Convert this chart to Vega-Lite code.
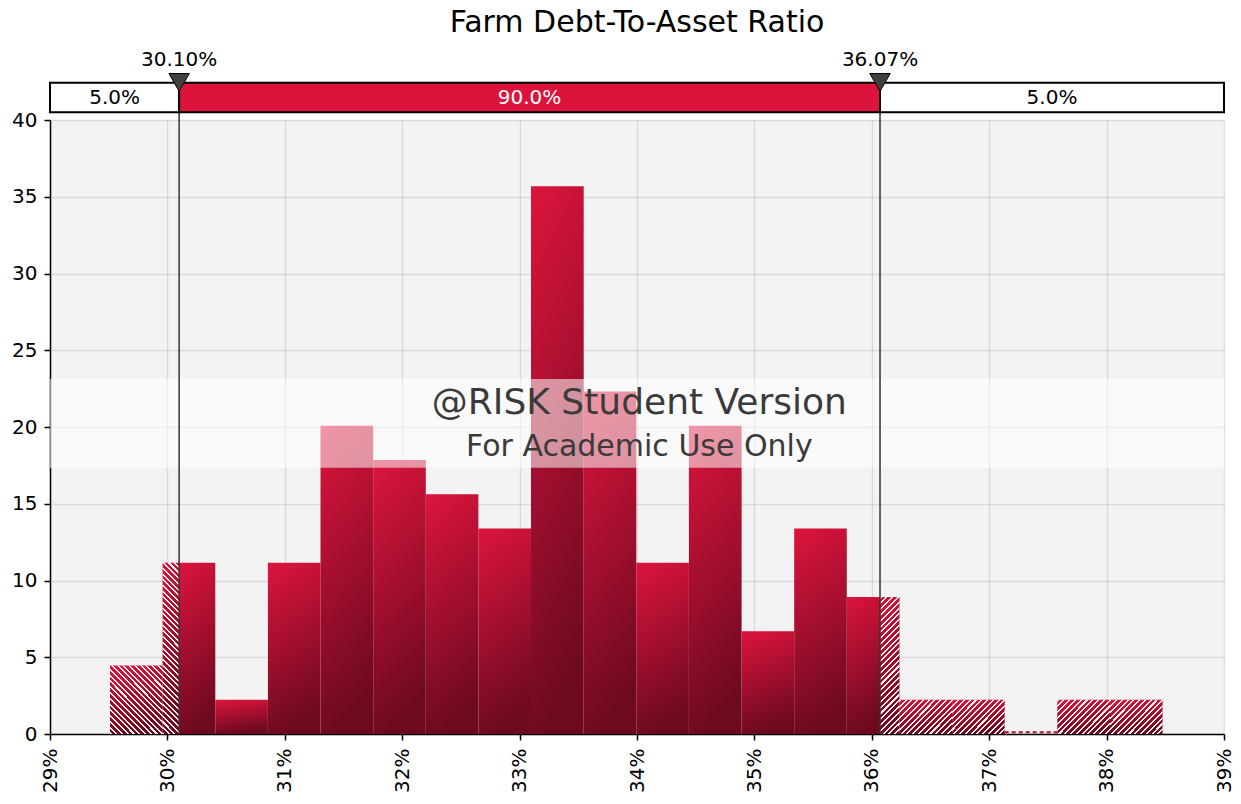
{
  "$schema": "https://vega.github.io/schema/vega-lite/v6.json",
  "width": 1174,
  "height": 614,
  "autosize": {"type": "none"},
  "padding": {"left": 50, "top": 120, "right": 17, "bottom": 70},
  "background": "white",
  "title": {"text": "Farm Debt-To-Asset Ratio", "fontSize": 30, "font": "DejaVu Sans", "fontWeight": "normal", "color": "#000", "anchor": "middle", "frame": "group", "offset": 12},
  "config": {
    "font": "DejaVu Sans",
    "view": {"fill": "#f3f3f3", "stroke": null},
    "axis": {"labelFontSize": 20, "labelColor": "#000", "tickColor": "#000", "domainColor": "#000", "domainWidth": 1.5, "tickWidth": 1.5, "tickSize": 6, "gridColor": "#000", "gridOpacity": 0.1, "gridWidth": 1.5, "zindex": 1, "labelFont": "DejaVu Sans"}
  },
  "datasets": {
    "bins": [
      {"x0": 29.511, "x1": 29.959, "d": 4.461},
      {"x0": 29.959, "x1": 30.10, "d": 11.153},
      {"x0": 30.10, "x1": 30.408, "d": 11.153},
      {"x0": 30.408, "x1": 30.856, "d": 2.231},
      {"x0": 30.856, "x1": 31.304, "d": 11.153},
      {"x0": 31.304, "x1": 31.753, "d": 20.076},
      {"x0": 31.753, "x1": 32.201, "d": 17.845},
      {"x0": 32.201, "x1": 32.649, "d": 15.614},
      {"x0": 32.649, "x1": 33.097, "d": 13.384},
      {"x0": 33.097, "x1": 33.546, "d": 35.69},
      {"x0": 33.546, "x1": 33.994, "d": 22.306},
      {"x0": 33.994, "x1": 34.442, "d": 11.153},
      {"x0": 34.442, "x1": 34.891, "d": 20.076},
      {"x0": 34.891, "x1": 35.339, "d": 6.692},
      {"x0": 35.339, "x1": 35.787, "d": 13.384},
      {"x0": 35.787, "x1": 36.07, "d": 8.922},
      {"x0": 36.07, "x1": 36.236, "d": 8.922},
      {"x0": 36.236, "x1": 36.684, "d": 2.231},
      {"x0": 36.684, "x1": 37.132, "d": 2.231},
      {"x0": 37.132, "x1": 37.580, "d": 0},
      {"x0": 37.580, "x1": 38.029, "d": 2.231},
      {"x0": 38.029, "x1": 38.477, "d": 2.231}
    ],
    "tails": [
      {"from": 29, "to": 30.10, "share": "5.0%"},
      {"from": 30.10, "to": 36.07, "share": "90.0%"},
      {"from": 36.07, "to": 39, "share": "5.0%"}
    ],
    "markers": [
      {"v": 30.10, "label": "30.10%"},
      {"v": 36.07, "label": "36.07%"}
    ]
  },
  "layer": [
    {
      "data": {"name": "bins"},
      "transform": [{"filter": "datum.d > 0"}],
      "mark": {"type": "rect", "fill": {"gradient": "linear", "x1": 0, "y1": 0, "x2": 0.2, "y2": 1, "stops": [{"offset": 0, "color": "#dd143d"}, {"offset": 1, "color": "#6e0a20"}]}},
      "encoding": {
        "x": {"field": "x0", "type": "quantitative", "title": null, "scale": {"domain": [29, 39], "nice": false, "zero": false}, "axis": {"values": [29, 30, 31, 32, 33, 34, 35, 36, 37, 38, 39], "labelExpr": "datum.value + '%'", "labelAngle": 270, "labelPadding": 8, "title": null}},
        "x2": {"field": "x1"},
        "y": {"field": "d", "type": "quantitative", "title": null, "scale": {"domain": [0, 40], "nice": false}, "axis": {"values": [0, 5, 10, 15, 20, 25, 30, 35, 40], "labelPadding": 7, "title": null}},
        "y2": {"datum": 0}
      }
    },
    {
      "data": {"name": "bins"},
      "transform": [{"filter": "datum.x1 <= 30.1 && datum.x1 - datum.x0 > 0.3"}],
      "mark": {"type": "rect", "fill": {"gradient": "linear", "x1": 0, "y1": 1, "x2": 0.858, "y2": -0.11, "stops": [
        {"offset": 0, "color": "#fbeef1"}, {"offset": 0.0171, "color": "#fbeef1"}, {"offset": 0.0171, "color": "transparent"}, {"offset": 0.0476, "color": "transparent"},
        {"offset": 0.0476, "color": "#fbeef1"}, {"offset": 0.0648, "color": "#fbeef1"}, {"offset": 0.0648, "color": "transparent"}, {"offset": 0.0952, "color": "transparent"},
        {"offset": 0.0952, "color": "#fbeef1"}, {"offset": 0.1124, "color": "#fbeef1"}, {"offset": 0.1124, "color": "transparent"}, {"offset": 0.1429, "color": "transparent"},
        {"offset": 0.1429, "color": "#fbeef1"}, {"offset": 0.16, "color": "#fbeef1"}, {"offset": 0.16, "color": "transparent"}, {"offset": 0.1905, "color": "transparent"},
        {"offset": 0.1905, "color": "#fbeef1"}, {"offset": 0.2076, "color": "#fbeef1"}, {"offset": 0.2076, "color": "transparent"}, {"offset": 0.2381, "color": "transparent"},
        {"offset": 0.2381, "color": "#fbeef1"}, {"offset": 0.2552, "color": "#fbeef1"}, {"offset": 0.2552, "color": "transparent"}, {"offset": 0.2857, "color": "transparent"},
        {"offset": 0.2857, "color": "#fbeef1"}, {"offset": 0.3029, "color": "#fbeef1"}, {"offset": 0.3029, "color": "transparent"}, {"offset": 0.3333, "color": "transparent"},
        {"offset": 0.3333, "color": "#fbeef1"}, {"offset": 0.3505, "color": "#fbeef1"}, {"offset": 0.3505, "color": "transparent"}, {"offset": 0.381, "color": "transparent"},
        {"offset": 0.381, "color": "#fbeef1"}, {"offset": 0.3981, "color": "#fbeef1"}, {"offset": 0.3981, "color": "transparent"}, {"offset": 0.4286, "color": "transparent"},
        {"offset": 0.4286, "color": "#fbeef1"}, {"offset": 0.4457, "color": "#fbeef1"}, {"offset": 0.4457, "color": "transparent"}, {"offset": 0.4762, "color": "transparent"},
        {"offset": 0.4762, "color": "#fbeef1"}, {"offset": 0.4933, "color": "#fbeef1"}, {"offset": 0.4933, "color": "transparent"}, {"offset": 0.5238, "color": "transparent"},
        {"offset": 0.5238, "color": "#fbeef1"}, {"offset": 0.541, "color": "#fbeef1"}, {"offset": 0.541, "color": "transparent"}, {"offset": 0.5714, "color": "transparent"},
        {"offset": 0.5714, "color": "#fbeef1"}, {"offset": 0.5886, "color": "#fbeef1"}, {"offset": 0.5886, "color": "transparent"}, {"offset": 0.619, "color": "transparent"},
        {"offset": 0.619, "color": "#fbeef1"}, {"offset": 0.6362, "color": "#fbeef1"}, {"offset": 0.6362, "color": "transparent"}, {"offset": 0.6667, "color": "transparent"},
        {"offset": 0.6667, "color": "#fbeef1"}, {"offset": 0.6838, "color": "#fbeef1"}, {"offset": 0.6838, "color": "transparent"}, {"offset": 0.7143, "color": "transparent"},
        {"offset": 0.7143, "color": "#fbeef1"}, {"offset": 0.7314, "color": "#fbeef1"}, {"offset": 0.7314, "color": "transparent"}, {"offset": 0.7619, "color": "transparent"},
        {"offset": 0.7619, "color": "#fbeef1"}, {"offset": 0.7791, "color": "#fbeef1"}, {"offset": 0.7791, "color": "transparent"}, {"offset": 0.8095, "color": "transparent"},
        {"offset": 0.8095, "color": "#fbeef1"}, {"offset": 0.8267, "color": "#fbeef1"}, {"offset": 0.8267, "color": "transparent"}, {"offset": 0.8571, "color": "transparent"},
        {"offset": 0.8571, "color": "#fbeef1"}, {"offset": 0.8743, "color": "#fbeef1"}, {"offset": 0.8743, "color": "transparent"}, {"offset": 0.9048, "color": "transparent"},
        {"offset": 0.9048, "color": "#fbeef1"}, {"offset": 0.9219, "color": "#fbeef1"}, {"offset": 0.9219, "color": "transparent"}, {"offset": 0.9524, "color": "transparent"},
        {"offset": 0.9524, "color": "#fbeef1"}, {"offset": 0.9695, "color": "#fbeef1"}, {"offset": 0.9695, "color": "transparent"}, {"offset": 1, "color": "transparent"}
      ]}},
      "encoding": {
        "x": {"field": "x0", "type": "quantitative", "title": null},
        "x2": {"field": "x1"},
        "y": {"field": "d", "type": "quantitative", "title": null},
        "y2": {"datum": 0}
      }
    },
    {
      "data": {"name": "bins"},
      "transform": [{"filter": "datum.x1 <= 30.1 && datum.x1 - datum.x0 < 0.3"}],
      "mark": {"type": "rect", "fill": {"gradient": "linear", "x1": 0, "y1": 1, "x2": 0.1053, "y2": -0.0867, "stops": [
        {"offset": 0, "color": "#fbeef1"}, {"offset": 0.0109, "color": "#fbeef1"}, {"offset": 0.0109, "color": "transparent"}, {"offset": 0.0303, "color": "transparent"},
        {"offset": 0.0303, "color": "#fbeef1"}, {"offset": 0.0412, "color": "#fbeef1"}, {"offset": 0.0412, "color": "transparent"}, {"offset": 0.0606, "color": "transparent"},
        {"offset": 0.0606, "color": "#fbeef1"}, {"offset": 0.0715, "color": "#fbeef1"}, {"offset": 0.0715, "color": "transparent"}, {"offset": 0.0909, "color": "transparent"},
        {"offset": 0.0909, "color": "#fbeef1"}, {"offset": 0.1018, "color": "#fbeef1"}, {"offset": 0.1018, "color": "transparent"}, {"offset": 0.1212, "color": "transparent"},
        {"offset": 0.1212, "color": "#fbeef1"}, {"offset": 0.1321, "color": "#fbeef1"}, {"offset": 0.1321, "color": "transparent"}, {"offset": 0.1515, "color": "transparent"},
        {"offset": 0.1515, "color": "#fbeef1"}, {"offset": 0.1624, "color": "#fbeef1"}, {"offset": 0.1624, "color": "transparent"}, {"offset": 0.1818, "color": "transparent"},
        {"offset": 0.1818, "color": "#fbeef1"}, {"offset": 0.1927, "color": "#fbeef1"}, {"offset": 0.1927, "color": "transparent"}, {"offset": 0.2121, "color": "transparent"},
        {"offset": 0.2121, "color": "#fbeef1"}, {"offset": 0.223, "color": "#fbeef1"}, {"offset": 0.223, "color": "transparent"}, {"offset": 0.2424, "color": "transparent"},
        {"offset": 0.2424, "color": "#fbeef1"}, {"offset": 0.2533, "color": "#fbeef1"}, {"offset": 0.2533, "color": "transparent"}, {"offset": 0.2727, "color": "transparent"},
        {"offset": 0.2727, "color": "#fbeef1"}, {"offset": 0.2836, "color": "#fbeef1"}, {"offset": 0.2836, "color": "transparent"}, {"offset": 0.303, "color": "transparent"},
        {"offset": 0.303, "color": "#fbeef1"}, {"offset": 0.3139, "color": "#fbeef1"}, {"offset": 0.3139, "color": "transparent"}, {"offset": 0.3333, "color": "transparent"},
        {"offset": 0.3333, "color": "#fbeef1"}, {"offset": 0.3442, "color": "#fbeef1"}, {"offset": 0.3442, "color": "transparent"}, {"offset": 0.3636, "color": "transparent"},
        {"offset": 0.3636, "color": "#fbeef1"}, {"offset": 0.3745, "color": "#fbeef1"}, {"offset": 0.3745, "color": "transparent"}, {"offset": 0.3939, "color": "transparent"},
        {"offset": 0.3939, "color": "#fbeef1"}, {"offset": 0.4048, "color": "#fbeef1"}, {"offset": 0.4048, "color": "transparent"}, {"offset": 0.4242, "color": "transparent"},
        {"offset": 0.4242, "color": "#fbeef1"}, {"offset": 0.4351, "color": "#fbeef1"}, {"offset": 0.4351, "color": "transparent"}, {"offset": 0.4545, "color": "transparent"},
        {"offset": 0.4545, "color": "#fbeef1"}, {"offset": 0.4654, "color": "#fbeef1"}, {"offset": 0.4654, "color": "transparent"}, {"offset": 0.4848, "color": "transparent"},
        {"offset": 0.4848, "color": "#fbeef1"}, {"offset": 0.4957, "color": "#fbeef1"}, {"offset": 0.4957, "color": "transparent"}, {"offset": 0.5152, "color": "transparent"},
        {"offset": 0.5152, "color": "#fbeef1"}, {"offset": 0.5261, "color": "#fbeef1"}, {"offset": 0.5261, "color": "transparent"}, {"offset": 0.5455, "color": "transparent"},
        {"offset": 0.5455, "color": "#fbeef1"}, {"offset": 0.5564, "color": "#fbeef1"}, {"offset": 0.5564, "color": "transparent"}, {"offset": 0.5758, "color": "transparent"},
        {"offset": 0.5758, "color": "#fbeef1"}, {"offset": 0.5867, "color": "#fbeef1"}, {"offset": 0.5867, "color": "transparent"}, {"offset": 0.6061, "color": "transparent"},
        {"offset": 0.6061, "color": "#fbeef1"}, {"offset": 0.617, "color": "#fbeef1"}, {"offset": 0.617, "color": "transparent"}, {"offset": 0.6364, "color": "transparent"},
        {"offset": 0.6364, "color": "#fbeef1"}, {"offset": 0.6473, "color": "#fbeef1"}, {"offset": 0.6473, "color": "transparent"}, {"offset": 0.6667, "color": "transparent"},
        {"offset": 0.6667, "color": "#fbeef1"}, {"offset": 0.6776, "color": "#fbeef1"}, {"offset": 0.6776, "color": "transparent"}, {"offset": 0.697, "color": "transparent"},
        {"offset": 0.697, "color": "#fbeef1"}, {"offset": 0.7079, "color": "#fbeef1"}, {"offset": 0.7079, "color": "transparent"}, {"offset": 0.7273, "color": "transparent"},
        {"offset": 0.7273, "color": "#fbeef1"}, {"offset": 0.7382, "color": "#fbeef1"}, {"offset": 0.7382, "color": "transparent"}, {"offset": 0.7576, "color": "transparent"},
        {"offset": 0.7576, "color": "#fbeef1"}, {"offset": 0.7685, "color": "#fbeef1"}, {"offset": 0.7685, "color": "transparent"}, {"offset": 0.7879, "color": "transparent"},
        {"offset": 0.7879, "color": "#fbeef1"}, {"offset": 0.7988, "color": "#fbeef1"}, {"offset": 0.7988, "color": "transparent"}, {"offset": 0.8182, "color": "transparent"},
        {"offset": 0.8182, "color": "#fbeef1"}, {"offset": 0.8291, "color": "#fbeef1"}, {"offset": 0.8291, "color": "transparent"}, {"offset": 0.8485, "color": "transparent"},
        {"offset": 0.8485, "color": "#fbeef1"}, {"offset": 0.8594, "color": "#fbeef1"}, {"offset": 0.8594, "color": "transparent"}, {"offset": 0.8788, "color": "transparent"},
        {"offset": 0.8788, "color": "#fbeef1"}, {"offset": 0.8897, "color": "#fbeef1"}, {"offset": 0.8897, "color": "transparent"}, {"offset": 0.9091, "color": "transparent"},
        {"offset": 0.9091, "color": "#fbeef1"}, {"offset": 0.92, "color": "#fbeef1"}, {"offset": 0.92, "color": "transparent"}, {"offset": 0.9394, "color": "transparent"},
        {"offset": 0.9394, "color": "#fbeef1"}, {"offset": 0.9503, "color": "#fbeef1"}, {"offset": 0.9503, "color": "transparent"}, {"offset": 0.9697, "color": "transparent"},
        {"offset": 0.9697, "color": "#fbeef1"}, {"offset": 0.9806, "color": "#fbeef1"}, {"offset": 0.9806, "color": "transparent"}, {"offset": 1, "color": "transparent"}
      ]}},
      "encoding": {
        "x": {"field": "x0", "type": "quantitative", "title": null},
        "x2": {"field": "x1"},
        "y": {"field": "d", "type": "quantitative", "title": null},
        "y2": {"datum": 0}
      }
    },
    {
      "data": {"name": "bins"},
      "transform": [{"filter": "datum.x0 >= 36.07 && datum.x1 - datum.x0 > 0.3 && datum.d > 0"}],
      "mark": {"type": "rect", "fill": {"gradient": "linear", "x1": 0, "y1": 0, "x2": 1.161, "y2": 0.75, "stops": [
        {"offset": 0, "color": "#fbeef1"}, {"offset": 0.024, "color": "#fbeef1"}, {"offset": 0.024, "color": "transparent"}, {"offset": 0.0667, "color": "transparent"},
        {"offset": 0.0667, "color": "#fbeef1"}, {"offset": 0.0907, "color": "#fbeef1"}, {"offset": 0.0907, "color": "transparent"}, {"offset": 0.1333, "color": "transparent"},
        {"offset": 0.1333, "color": "#fbeef1"}, {"offset": 0.1573, "color": "#fbeef1"}, {"offset": 0.1573, "color": "transparent"}, {"offset": 0.2, "color": "transparent"},
        {"offset": 0.2, "color": "#fbeef1"}, {"offset": 0.224, "color": "#fbeef1"}, {"offset": 0.224, "color": "transparent"}, {"offset": 0.2667, "color": "transparent"},
        {"offset": 0.2667, "color": "#fbeef1"}, {"offset": 0.2907, "color": "#fbeef1"}, {"offset": 0.2907, "color": "transparent"}, {"offset": 0.3333, "color": "transparent"},
        {"offset": 0.3333, "color": "#fbeef1"}, {"offset": 0.3573, "color": "#fbeef1"}, {"offset": 0.3573, "color": "transparent"}, {"offset": 0.4, "color": "transparent"},
        {"offset": 0.4, "color": "#fbeef1"}, {"offset": 0.424, "color": "#fbeef1"}, {"offset": 0.424, "color": "transparent"}, {"offset": 0.4667, "color": "transparent"},
        {"offset": 0.4667, "color": "#fbeef1"}, {"offset": 0.4907, "color": "#fbeef1"}, {"offset": 0.4907, "color": "transparent"}, {"offset": 0.5333, "color": "transparent"},
        {"offset": 0.5333, "color": "#fbeef1"}, {"offset": 0.5573, "color": "#fbeef1"}, {"offset": 0.5573, "color": "transparent"}, {"offset": 0.6, "color": "transparent"},
        {"offset": 0.6, "color": "#fbeef1"}, {"offset": 0.624, "color": "#fbeef1"}, {"offset": 0.624, "color": "transparent"}, {"offset": 0.6667, "color": "transparent"},
        {"offset": 0.6667, "color": "#fbeef1"}, {"offset": 0.6907, "color": "#fbeef1"}, {"offset": 0.6907, "color": "transparent"}, {"offset": 0.7333, "color": "transparent"},
        {"offset": 0.7333, "color": "#fbeef1"}, {"offset": 0.7573, "color": "#fbeef1"}, {"offset": 0.7573, "color": "transparent"}, {"offset": 0.8, "color": "transparent"},
        {"offset": 0.8, "color": "#fbeef1"}, {"offset": 0.824, "color": "#fbeef1"}, {"offset": 0.824, "color": "transparent"}, {"offset": 0.8667, "color": "transparent"},
        {"offset": 0.8667, "color": "#fbeef1"}, {"offset": 0.8907, "color": "#fbeef1"}, {"offset": 0.8907, "color": "transparent"}, {"offset": 0.9333, "color": "transparent"},
        {"offset": 0.9333, "color": "#fbeef1"}, {"offset": 0.9573, "color": "#fbeef1"}, {"offset": 0.9573, "color": "transparent"}, {"offset": 1, "color": "transparent"}
      ]}},
      "encoding": {
        "x": {"field": "x0", "type": "quantitative", "title": null},
        "x2": {"field": "x1"},
        "y": {"field": "d", "type": "quantitative", "title": null},
        "y2": {"datum": 0}
      }
    },
    {
      "data": {"name": "bins"},
      "transform": [{"filter": "datum.x0 >= 36.07 && datum.x1 - datum.x0 < 0.3"}],
      "mark": {"type": "rect", "fill": {"gradient": "linear", "x1": 0, "y1": 0, "x2": 0.1592, "y2": 1.1196, "stops": [
        {"offset": 0, "color": "#fbeef1"}, {"offset": 0.0133, "color": "#fbeef1"}, {"offset": 0.0133, "color": "transparent"}, {"offset": 0.037, "color": "transparent"},
        {"offset": 0.037, "color": "#fbeef1"}, {"offset": 0.0503, "color": "#fbeef1"}, {"offset": 0.0503, "color": "transparent"}, {"offset": 0.0741, "color": "transparent"},
        {"offset": 0.0741, "color": "#fbeef1"}, {"offset": 0.0874, "color": "#fbeef1"}, {"offset": 0.0874, "color": "transparent"}, {"offset": 0.1111, "color": "transparent"},
        {"offset": 0.1111, "color": "#fbeef1"}, {"offset": 0.1244, "color": "#fbeef1"}, {"offset": 0.1244, "color": "transparent"}, {"offset": 0.1481, "color": "transparent"},
        {"offset": 0.1481, "color": "#fbeef1"}, {"offset": 0.1614, "color": "#fbeef1"}, {"offset": 0.1614, "color": "transparent"}, {"offset": 0.1852, "color": "transparent"},
        {"offset": 0.1852, "color": "#fbeef1"}, {"offset": 0.1985, "color": "#fbeef1"}, {"offset": 0.1985, "color": "transparent"}, {"offset": 0.2222, "color": "transparent"},
        {"offset": 0.2222, "color": "#fbeef1"}, {"offset": 0.2355, "color": "#fbeef1"}, {"offset": 0.2355, "color": "transparent"}, {"offset": 0.2593, "color": "transparent"},
        {"offset": 0.2593, "color": "#fbeef1"}, {"offset": 0.2726, "color": "#fbeef1"}, {"offset": 0.2726, "color": "transparent"}, {"offset": 0.2963, "color": "transparent"},
        {"offset": 0.2963, "color": "#fbeef1"}, {"offset": 0.3096, "color": "#fbeef1"}, {"offset": 0.3096, "color": "transparent"}, {"offset": 0.3333, "color": "transparent"},
        {"offset": 0.3333, "color": "#fbeef1"}, {"offset": 0.3466, "color": "#fbeef1"}, {"offset": 0.3466, "color": "transparent"}, {"offset": 0.3704, "color": "transparent"},
        {"offset": 0.3704, "color": "#fbeef1"}, {"offset": 0.3837, "color": "#fbeef1"}, {"offset": 0.3837, "color": "transparent"}, {"offset": 0.4074, "color": "transparent"},
        {"offset": 0.4074, "color": "#fbeef1"}, {"offset": 0.4207, "color": "#fbeef1"}, {"offset": 0.4207, "color": "transparent"}, {"offset": 0.4444, "color": "transparent"},
        {"offset": 0.4444, "color": "#fbeef1"}, {"offset": 0.4577, "color": "#fbeef1"}, {"offset": 0.4577, "color": "transparent"}, {"offset": 0.4815, "color": "transparent"},
        {"offset": 0.4815, "color": "#fbeef1"}, {"offset": 0.4948, "color": "#fbeef1"}, {"offset": 0.4948, "color": "transparent"}, {"offset": 0.5185, "color": "transparent"},
        {"offset": 0.5185, "color": "#fbeef1"}, {"offset": 0.5318, "color": "#fbeef1"}, {"offset": 0.5318, "color": "transparent"}, {"offset": 0.5556, "color": "transparent"},
        {"offset": 0.5556, "color": "#fbeef1"}, {"offset": 0.5689, "color": "#fbeef1"}, {"offset": 0.5689, "color": "transparent"}, {"offset": 0.5926, "color": "transparent"},
        {"offset": 0.5926, "color": "#fbeef1"}, {"offset": 0.6059, "color": "#fbeef1"}, {"offset": 0.6059, "color": "transparent"}, {"offset": 0.6296, "color": "transparent"},
        {"offset": 0.6296, "color": "#fbeef1"}, {"offset": 0.6429, "color": "#fbeef1"}, {"offset": 0.6429, "color": "transparent"}, {"offset": 0.6667, "color": "transparent"},
        {"offset": 0.6667, "color": "#fbeef1"}, {"offset": 0.68, "color": "#fbeef1"}, {"offset": 0.68, "color": "transparent"}, {"offset": 0.7037, "color": "transparent"},
        {"offset": 0.7037, "color": "#fbeef1"}, {"offset": 0.717, "color": "#fbeef1"}, {"offset": 0.717, "color": "transparent"}, {"offset": 0.7407, "color": "transparent"},
        {"offset": 0.7407, "color": "#fbeef1"}, {"offset": 0.754, "color": "#fbeef1"}, {"offset": 0.754, "color": "transparent"}, {"offset": 0.7778, "color": "transparent"},
        {"offset": 0.7778, "color": "#fbeef1"}, {"offset": 0.7911, "color": "#fbeef1"}, {"offset": 0.7911, "color": "transparent"}, {"offset": 0.8148, "color": "transparent"},
        {"offset": 0.8148, "color": "#fbeef1"}, {"offset": 0.8281, "color": "#fbeef1"}, {"offset": 0.8281, "color": "transparent"}, {"offset": 0.8519, "color": "transparent"},
        {"offset": 0.8519, "color": "#fbeef1"}, {"offset": 0.8652, "color": "#fbeef1"}, {"offset": 0.8652, "color": "transparent"}, {"offset": 0.8889, "color": "transparent"},
        {"offset": 0.8889, "color": "#fbeef1"}, {"offset": 0.9022, "color": "#fbeef1"}, {"offset": 0.9022, "color": "transparent"}, {"offset": 0.9259, "color": "transparent"},
        {"offset": 0.9259, "color": "#fbeef1"}, {"offset": 0.9392, "color": "#fbeef1"}, {"offset": 0.9392, "color": "transparent"}, {"offset": 0.963, "color": "transparent"},
        {"offset": 0.963, "color": "#fbeef1"}, {"offset": 0.9763, "color": "#fbeef1"}, {"offset": 0.9763, "color": "transparent"}, {"offset": 1, "color": "transparent"}
      ]}},
      "encoding": {
        "x": {"field": "x0", "type": "quantitative", "title": null},
        "x2": {"field": "x1"},
        "y": {"field": "d", "type": "quantitative", "title": null},
        "y2": {"datum": 0}
      }
    },
    {
      "data": {"name": "bins"},
      "transform": [{"filter": "datum.d == 0"}],
      "mark": {"type": "rule", "color": "#b8102e", "strokeWidth": 2, "strokeDash": [4, 3]},
      "encoding": {
        "x": {"field": "x0", "type": "quantitative", "title": null},
        "x2": {"field": "x1"},
        "y": {"datum": 0.12, "type": "quantitative"}
      }
    },
    {
      "data": {"values": [{}]},
      "mark": {"type": "rect", "fill": "white", "opacity": 0.55},
      "encoding": {
        "x": {"datum": 29, "type": "quantitative"},
        "x2": {"datum": 39},
        "y": {"datum": 17.35, "type": "quantitative"},
        "y2": {"datum": 23.13}
      }
    },
    {
      "data": {"values": [{}]},
      "mark": {"type": "text", "text": "@RISK Student Version", "fontSize": 36, "color": "#3a3a3a", "baseline": "middle", "align": "center"},
      "encoding": {
        "x": {"datum": 34.02, "type": "quantitative"},
        "y": {"datum": 21.56, "type": "quantitative"}
      }
    },
    {
      "data": {"values": [{}]},
      "mark": {"type": "text", "text": "For Academic Use Only", "fontSize": 30, "color": "#3a3a3a", "baseline": "middle", "align": "center"},
      "encoding": {
        "x": {"datum": 34.02, "type": "quantitative"},
        "y": {"datum": 18.7, "type": "quantitative"}
      }
    },
    {
      "data": {"name": "markers"},
      "mark": {"type": "rule", "color": "#333333", "strokeWidth": 1.5},
      "encoding": {
        "x": {"field": "v", "type": "quantitative", "title": null},
        "y": {"datum": 0, "type": "quantitative"},
        "y2": {"datum": 42.43}
      }
    },
    {
      "data": {"name": "tails"},
      "mark": {"type": "rect", "stroke": "#000", "strokeWidth": 2},
      "encoding": {
        "x": {"field": "from", "type": "quantitative", "title": null},
        "x2": {"field": "to"},
        "y": {"datum": 40.5, "type": "quantitative"},
        "y2": {"datum": 42.43},
        "fill": {"condition": {"test": "datum.share == '90.0%'", "value": "#dc143c"}, "value": "white"}
      }
    },
    {
      "data": {"name": "tails"},
      "transform": [{"calculate": "(datum.from + datum.to) / 2", "as": "mid"}],
      "mark": {"type": "text", "fontSize": 20, "baseline": "middle", "align": "center"},
      "encoding": {
        "x": {"field": "mid", "type": "quantitative", "title": null},
        "y": {"datum": 41.45, "type": "quantitative"},
        "text": {"field": "share"},
        "color": {"condition": {"test": "datum.share == '90.0%'", "value": "white"}, "value": "black"}
      }
    },
    {
      "data": {"name": "markers"},
      "mark": {"type": "point", "shape": "triangle-down", "filled": true, "fill": "#404040", "stroke": "#000", "strokeWidth": 1, "size": 420, "opacity": 1},
      "encoding": {
        "x": {"field": "v", "type": "quantitative", "title": null},
        "y": {"datum": 42.45, "type": "quantitative"}
      }
    },
    {
      "data": {"name": "markers"},
      "mark": {"type": "text", "fontSize": 20, "baseline": "middle", "align": "center", "color": "#000"},
      "encoding": {
        "x": {"field": "v", "type": "quantitative", "title": null},
        "y": {"datum": 43.9, "type": "quantitative"},
        "text": {"field": "label"}
      }
    }
  ]
}
